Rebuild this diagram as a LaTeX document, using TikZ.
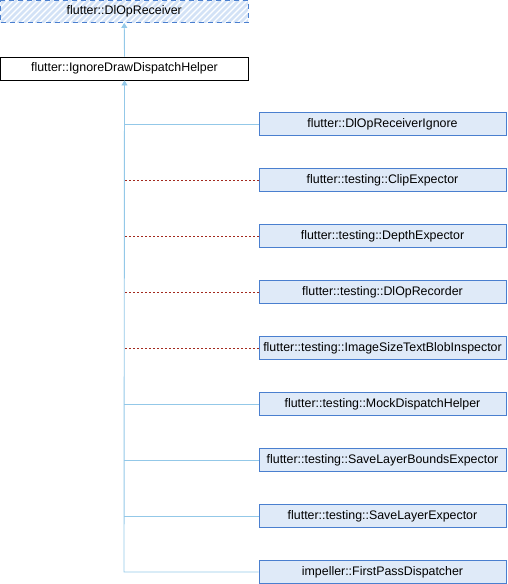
\documentclass[tikz,border=0pt]{standalone}
\usepackage{fontspec}
\setmainfont{Liberation Sans}
\usetikzlibrary{arrows.meta}
\definecolor{boxfill}{HTML}{DFEAF8}
\definecolor{boxline}{HTML}{4A7FCF}
\definecolor{edgeblue}{HTML}{93C8E8}
\definecolor{edgered}{HTML}{A32A1E}
\definecolor{hatch}{HTML}{D3E2F6}
\tikzset{
  x=1pt, y=-1pt,
  lbl/.style={font=\fontsize{12.4}{14}\selectfont},
  cls/.style={lbl, draw=boxline, fill=boxfill, line width=0.9pt, minimum width=247pt, minimum height=23pt, inner sep=0pt},
  basecls/.style={lbl, draw=black, fill=white, line width=0.9pt, minimum width=248pt, minimum height=23pt, inner sep=0pt},
  pub/.style={draw=edgeblue, line width=0.9pt},
  prot/.style={draw=edgered, line width=0.9pt, dash pattern=on 2pt off 2pt},
  tip/.style={-{Triangle[length=5pt,width=6pt]}}
}
\begin{document}
\begin{tikzpicture}
\useasboundingbox (0,0) rectangle (508,584);
% top hatched dashed box
\begin{scope}
  \clip (0.5,0.5) rectangle (248,22.5);
  \foreach \i in {-30,...,45} {
    \draw[hatch, line width=2.8pt] (\i*6,23) -- (\i*6+23,0);
  }
\end{scope}
\node[lbl, draw=boxline, dash pattern=on 5pt off 4pt, line width=0.9pt, minimum width=247.5pt, minimum height=22pt, inner sep=0pt] (top) at (124.25,11.5) {flutter::DlOpReceiver};
\node[basecls] (mid) at (124.5,68.5) {flutter::IgnoreDrawDispatchHelper};
\draw[pub,tip] (mid.north) -- (top.south);

\node[cls] (c1) at (382.5,124) {flutter::DlOpReceiverIgnore};
\node[cls] (c2) at (382.5,180) {flutter::testing::ClipExpector};
\node[cls] (c3) at (382.5,236) {flutter::testing::DepthExpector};
\node[cls] (c4) at (382.5,292) {flutter::testing::DlOpRecorder};
\node[cls] (c5) at (382.5,348) {flutter::testing::ImageSizeTextBlobInspector};
\node[cls] (c6) at (382.5,404) {flutter::testing::MockDispatchHelper};
\node[cls] (c7) at (382.5,460) {flutter::testing::SaveLayerBoundsExpector};
\node[cls] (c8) at (382.5,516) {flutter::testing::SaveLayerExpector};
\node[cls] (c9) at (382.5,572) {impeller::FirstPassDispatcher};

\coordinate (trunk) at (124,572);
\draw[pub,tip] (c9.west) -- (trunk) -- (mid.south);
\foreach \c/\s in {c1/pub,c2/prot,c3/prot,c4/prot,c5/prot,c6/pub,c7/pub,c8/pub} {
  \draw[\s] (\c.west) -- (124,0 |- \c.west);
}
\end{tikzpicture}
\end{document}
